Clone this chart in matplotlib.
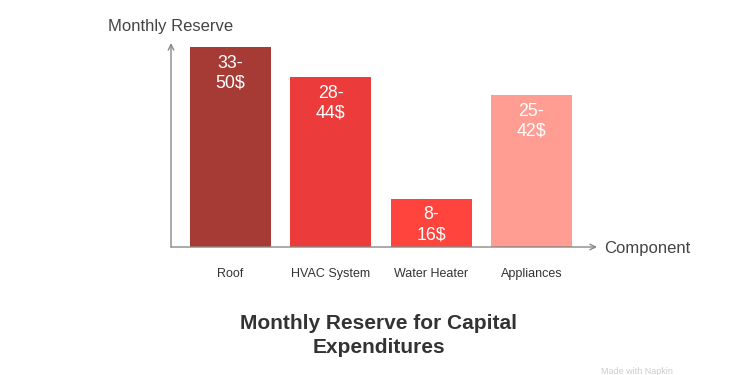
import matplotlib
matplotlib.use("Agg")
import matplotlib.pyplot as plt

plt.rcParams["font.family"] = ["Liberation Sans", "DejaVu Sans"]

components = ["Roof", "HVAC System", "Water Heater", "Appliances"]
low = [33, 28, 8, 25]
high = [50, 44, 16, 42]
colors = ["#A63A35", "#EC3B3B", "#FF433D", "#FF9D92"]

fig = plt.figure(figsize=(7.5, 3.75), dpi=100)
ax = fig.add_axes([171 / 750, 1 - 247 / 375, 426 / 750, 204 / 375])
ax.set_xlim(-0.593, 3.654)
ax.set_ylim(0, 33.66)
ax.axis("off")

x = list(range(len(components)))
ax.bar(x, low, width=0.808, color=colors)

# range labels inside the bars
for xi, lo, hi in zip(x, low, high):
    ax.annotate(f"{lo}-\n{hi}$", (xi, lo), xytext=(0, -5.5), textcoords="offset points",
                ha="center", va="top", color="white", fontsize=12.8, linespacing=1.22)

for xi, name in zip(x, components):
    ax.text(xi, -0.132, name, transform=ax.get_xaxis_transform(), ha="center", va="center",
            fontsize=9, color="#333333")

# axis arrows
arrow = dict(arrowstyle="->", color="#888888", lw=1.0, shrinkA=0, shrinkB=0)
ax.annotate("", xy=(0, 1), xytext=(0, 0), xycoords="axes fraction", arrowprops=arrow)
ax.annotate("", xy=(1, 0), xytext=(0, 0), xycoords="axes fraction", arrowprops=arrow)

fig.text(108 / 750, 1 - 27 / 375, "Monthly Reserve", ha="left", va="center", fontsize=12, color="#444444")
fig.text(604 / 750, 1 - 248 / 375, "Component", ha="left", va="center", fontsize=12, color="#444444")

fig.text(379 / 750, 1 - 335.5 / 375, "Monthly Reserve for Capital\nExpenditures", ha="center", va="center",
         fontsize=15, fontweight="bold", color="#333333", linespacing=1.38)

fig.text(601 / 750, 1 - 372 / 375, "Made with Napkin", ha="left", va="center", fontsize=6.5, color="#cccccc")

fig.savefig("out.png", dpi=100)
